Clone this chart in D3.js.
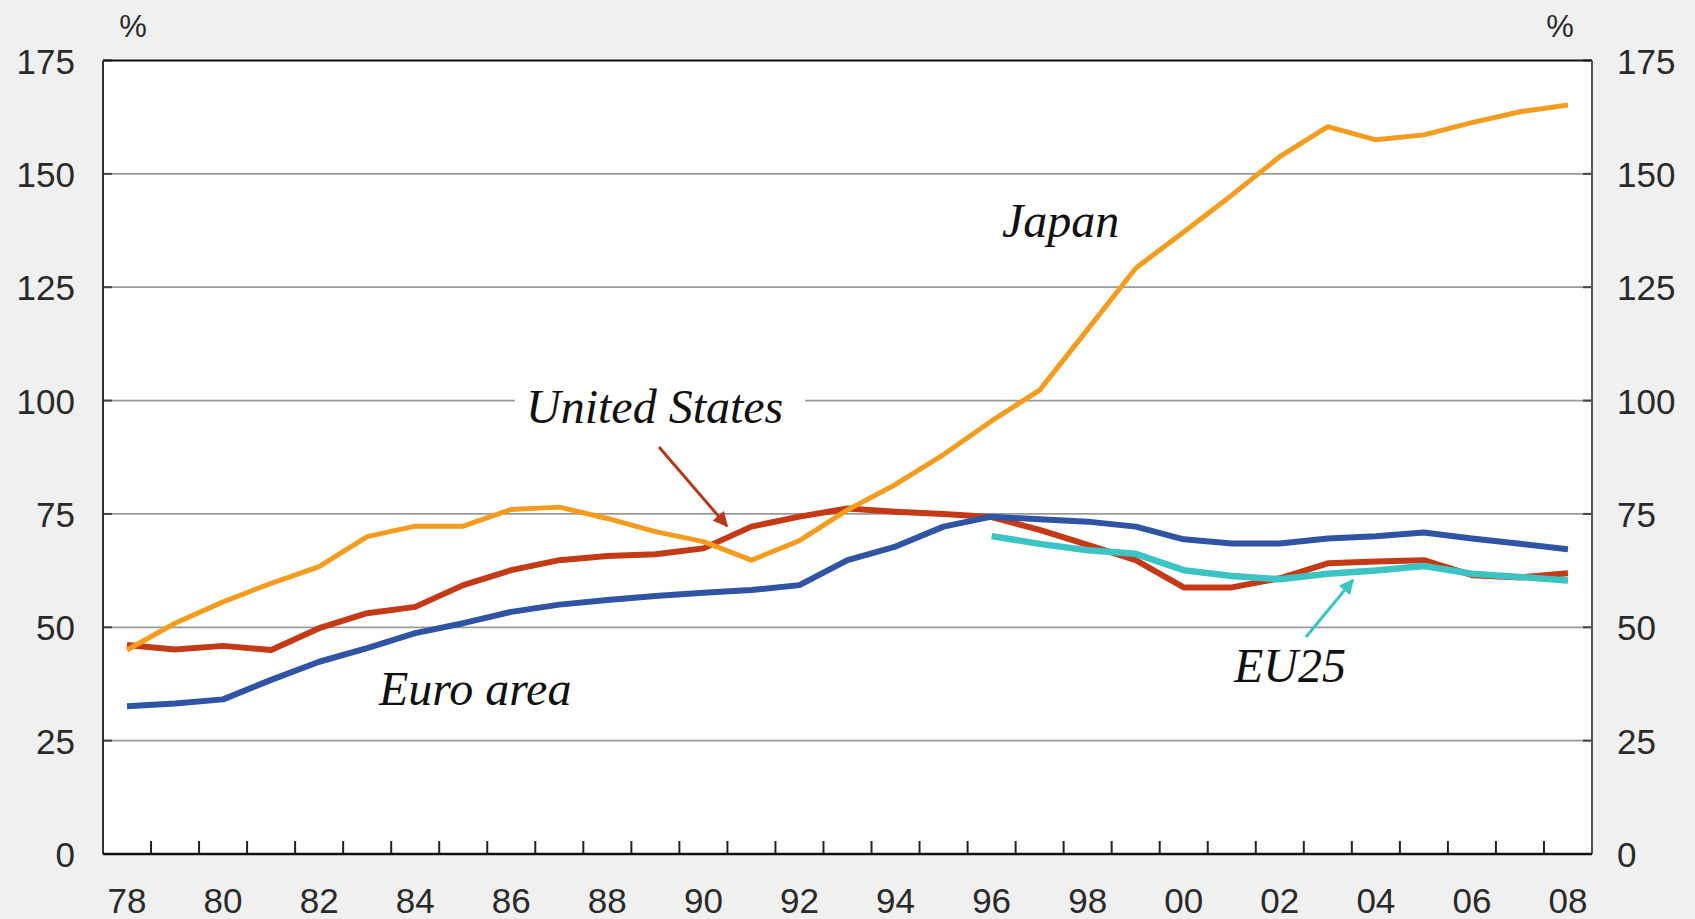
<!DOCTYPE html>
<html>
<head>
<meta charset="utf-8">
<script src="https://cdn.jsdelivr.net/npm/d3@7"></script>
<style>
  html, body { margin: 0; padding: 0; background: #f0f0f0; }
  svg { display: block; }
</style>
</head>
<body>
<svg id="chart" width="1695" height="919"></svg>
<script>
const years = ["78","79","80","81","82","83","84","85","86","87","88","89","90","91","92","93","94","95","96","97","98","99","00","01","02","03","04","05","06","07","08"];
const xTickLabels = ["78","80","82","84","86","88","90","92","94","96","98","00","02","04","06","08"];
const yTicks = [0, 25, 50, 75, 100, 125, 150, 175];

const japan = [45, 50.9, 55.6, 59.7, 63.4, 70.0, 72.3, 72.3, 76.0, 76.5, 74.0, 71.1, 68.9, 64.8, 69.1, 75.9, 81.5, 88.1, 95.5, 102.3, 115.7, 129.2, 137.2, 145.3, 153.8, 160.4, 157.5, 158.6, 161.3, 163.7, 165.2];
const unitedStates = [46.1, 45.1, 45.9, 45.0, 49.8, 53.1, 54.5, 59.3, 62.6, 64.8, 65.7, 66.1, 67.4, 72.2, 74.4, 76.2, 75.5, 75.0, 74.3, 71.5, 68.2, 64.8, 58.8, 58.8, 60.8, 64.1, 64.5, 64.8, 61.5, 61.0, 61.9];
const euroArea = [32.6, 33.2, 34.1, 38.4, 42.4, 45.4, 48.7, 50.9, 53.4, 55.0, 56.0, 56.9, 57.6, 58.2, 59.3, 64.8, 67.8, 72.2, 74.4, 73.8, 73.3, 72.2, 69.4, 68.5, 68.5, 69.6, 70.1, 70.9, 69.6, 68.4, 67.2];
const eu25Years = ["96","97","98","99","00","01","02","03","04","05","06","07","08"];
const eu25 = [70.1, 68.4, 67.0, 66.2, 62.6, 61.3, 60.6, 61.8, 62.5, 63.5, 61.8, 61.1, 60.3];

const svg = d3.select("#chart");
const L = 103, R = 1592, T = 60.5, B = 854;

const x = d3.scaleBand().domain(years).range([L, R]).padding(0);
const cx = d => x(d) + x.bandwidth() / 2;
const y = d3.scaleLinear().domain([0, 175]).range([B, T]);

// plot background
svg.append("rect").attr("x", L).attr("y", T).attr("width", R - L).attr("height", B - T).attr("fill", "#ffffff");

// gridlines
svg.append("g").selectAll("line").data(yTicks.filter(v => v > 0 && v < 175)).join("line")
  .attr("x1", L).attr("x2", R).attr("y1", d => y(d)).attr("y2", d => y(d))
  .attr("stroke", "#9a9a9a").attr("stroke-width", 1.8);

// small y ticks inside at both sides
const ytk = svg.append("g");
ytk.selectAll("line.l").data(yTicks).join("line").attr("class", "l")
  .attr("x1", L).attr("x2", L + 9).attr("y1", d => y(d)).attr("y2", d => y(d))
  .attr("stroke", "#444").attr("stroke-width", 2);
ytk.selectAll("line.r").data(yTicks).join("line").attr("class", "r")
  .attr("x1", R - 9).attr("x2", R).attr("y1", d => y(d)).attr("y2", d => y(d))
  .attr("stroke", "#444").attr("stroke-width", 2);

// frame
svg.append("line").attr("x1", L).attr("x2", R).attr("y1", T).attr("y2", T).attr("stroke", "#111").attr("stroke-width", 2.2);
svg.append("line").attr("x1", L).attr("x2", L).attr("y1", T).attr("y2", B).attr("stroke", "#333").attr("stroke-width", 2);
svg.append("line").attr("x1", R).attr("x2", R).attr("y1", T).attr("y2", B).attr("stroke", "#555").attr("stroke-width", 2);

// x axis via d3 axis: ticks at band boundaries
const boundaries = years.slice(1);
const xAxis = d3.axisBottom(x).tickValues(boundaries).tickSize(-13).tickFormat("");
const gx = svg.append("g").attr("transform", `translate(0,${B})`).call(xAxis);
gx.selectAll(".tick").attr("transform", d => `translate(${x(d)},0)`);
gx.selectAll(".tick line").attr("stroke", "#222").attr("stroke-width", 2);
gx.select(".domain").remove();
svg.append("line").attr("x1", L).attr("x2", R).attr("y1", B).attr("y2", B).attr("stroke", "#111").attr("stroke-width", 2.6);

const sans = "Liberation Sans, Arial, sans-serif";
// x labels
svg.append("g").selectAll("text").data(xTickLabels).join("text")
  .attr("x", d => cx(d)).attr("y", 913)
  .attr("text-anchor", "middle")
  .attr("font-family", sans)
  .attr("font-size", 35).attr("fill", "#2a2a2a")
  .text(d => d);

// y labels left & right
svg.append("g").selectAll("text").data(yTicks).join("text")
  .attr("x", 75).attr("y", d => y(d) + 13)
  .attr("text-anchor", "end")
  .attr("font-family", sans)
  .attr("font-size", 35).attr("fill", "#2a2a2a")
  .text(d => d);
svg.append("g").selectAll("text").data(yTicks).join("text")
  .attr("x", 1617).attr("y", d => y(d) + 13)
  .attr("text-anchor", "start")
  .attr("font-family", sans)
  .attr("font-size", 35).attr("fill", "#2a2a2a")
  .text(d => d);

// % unit labels
[133, 1560].forEach(px => {
  svg.append("text").attr("x", px).attr("y", 37).attr("text-anchor", "middle")
    .attr("font-family", sans)
    .attr("font-size", 31).attr("fill", "#2a2a2a").text("%");
});

// lines
const line = d3.line().defined(d => d[1] != null).x(d => cx(d[0])).y(d => y(d[1]));
const series = [
  { data: years.map((yr, i) => [yr, unitedStates[i]]), color: "#c43a17", w: 6 },
  { data: years.map((yr, i) => [yr, euroArea[i]]), color: "#2e54a3", w: 6 },
  { data: eu25Years.map((yr, i) => [yr, eu25[i]]), color: "#3cc3c4", w: 6.5 },
  { data: years.map((yr, i) => [yr, japan[i]]), color: "#f39c1e", w: 5 }
];
series.forEach(s => {
  svg.append("path").datum(s.data).attr("d", line)
    .attr("fill", "none").attr("stroke", s.color).attr("stroke-width", s.w)
    .attr("stroke-linejoin", "round").attr("stroke-linecap", "butt");
});

// annotations
const serif = "Liberation Serif, Times New Roman, serif";
svg.append("rect").attr("x", 515).attr("y", 385).attr("width", 290).attr("height", 50).attr("fill", "#ffffff");
const ann = [
  { t: "Japan", x: 1002, y: 237 },
  { t: "United States", x: 526, y: 423 },
  { t: "Euro area", x: 379, y: 705 },
  { t: "EU25", x: 1234, y: 682 }
];
svg.append("g").selectAll("text").data(ann).join("text")
  .attr("x", d => d.x).attr("y", d => d.y)
  .attr("font-family", serif).attr("font-style", "italic")
  .attr("font-size", 48).attr("fill", "#111")
  .text(d => d.t);

// arrows
const defs = svg.append("defs");
function marker(id, color) {
  defs.append("marker").attr("id", id).attr("viewBox", "0 0 10 10")
    .attr("refX", 9).attr("refY", 5).attr("markerWidth", 5).attr("markerHeight", 5)
    .attr("markerUnits", "strokeWidth").attr("orient", "auto")
    .append("path").attr("d", "M0,0 L10,5 L0,10 z").attr("fill", color);
}
marker("arrUS", "#b8371c");
marker("arrEU", "#3cc3c4");
svg.append("line").attr("x1", 659).attr("y1", 447).attr("x2", 727).attr("y2", 526)
  .attr("stroke", "#b8371c").attr("stroke-width", 3).attr("marker-end", "url(#arrUS)");
svg.append("line").attr("x1", 1306).attr("y1", 637).attr("x2", 1353).attr("y2", 580)
  .attr("stroke", "#3cc3c4").attr("stroke-width", 3).attr("marker-end", "url(#arrEU)");
</script>
</body>
</html>
